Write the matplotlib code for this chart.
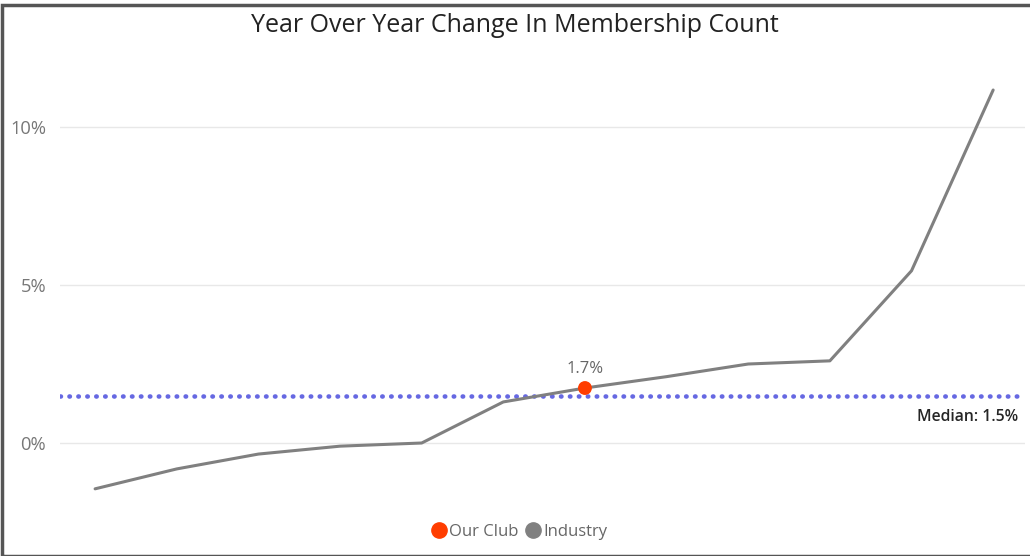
import numpy as np
import matplotlib.pyplot as plt
from matplotlib.lines import Line2D
from matplotlib.patches import Rectangle

plt.rcParams['font.family'] = ['Open Sans', 'DejaVu Sans']

# industry year-over-year change, sorted, in percent
industry = [-1.45, -0.82, -0.35, -0.1, 0.0, 1.3, 1.74, 2.1, 2.5, 2.6, 5.45, 11.17]
club_idx = 6
club_value = 1.74
median_value = 1.5
yticks = [0, 5, 10]
ytick_labels = ['0%', '5%', '10%']

fig = plt.figure(figsize=(10.30, 5.56), dpi=100)
ax = fig.add_axes([60/1030, 1 - 510/556, 965/1030, 450/556])

x = np.arange(len(industry))
ax.plot(x, industry, color='#808080', lw=2.2, zorder=3, solid_capstyle='round')
ax.scatter([club_idx], [club_value], s=100, color='#FF3D00', zorder=5, edgecolor='none')
ax.annotate('1.7%', (club_idx, club_value), xytext=(0, 8), textcoords='offset points',
            ha='center', va='bottom', fontsize=12, color='#666666')

ax.axhline(median_value, color='#6668E2', lw=3.3, ls=(0, (0.1, 1.85)),
           dash_capstyle='round', zorder=2)
ax.text(1018/1030, 1 - 417/556, 'Median: 1.5%', transform=fig.transFigure,
        ha='right', va='center', fontsize=11.3, color='#252525', fontweight='semibold')

ax.set_xlim(-0.43, 11.39)
ax.set_ylim(-2.12, 12.12)
ax.set_yticks(yticks)
ax.set_yticklabels(ytick_labels, fontsize=13.2, color='#777777')
ax.tick_params(axis='y', length=0, pad=10)
ax.set_xticks([])
ax.grid(axis='y', color='#E8E8E8', lw=1)
ax.set_axisbelow(True)
for s in ax.spines.values():
    s.set_visible(False)

fig.text(0.5, 1 - 26/556, 'Year Over Year Change In Membership Count',
         ha='center', va='center', fontsize=18, color='#222222')

handles = [Line2D([], [], ls='none', marker='o', ms=11, color='#FF3D00', label='Our Club'),
           Line2D([], [], ls='none', marker='o', ms=11, color='#808080', label='Industry')]
fig.legend(handles=handles, loc='center', bbox_to_anchor=(518/1030, 1 - 532/556),
           ncol=2, frameon=False, fontsize=12, labelcolor='#666666',
           handletextpad=0.0, columnspacing=0.3, handlelength=1.2)

# frame around the figure
fig.patches.append(Rectangle((0.002, 0), 1.2, 1 - 5/556, transform=fig.transFigure,
                             fill=False, edgecolor='#555555', lw=2.5))

fig.savefig('out.png', dpi=100)
